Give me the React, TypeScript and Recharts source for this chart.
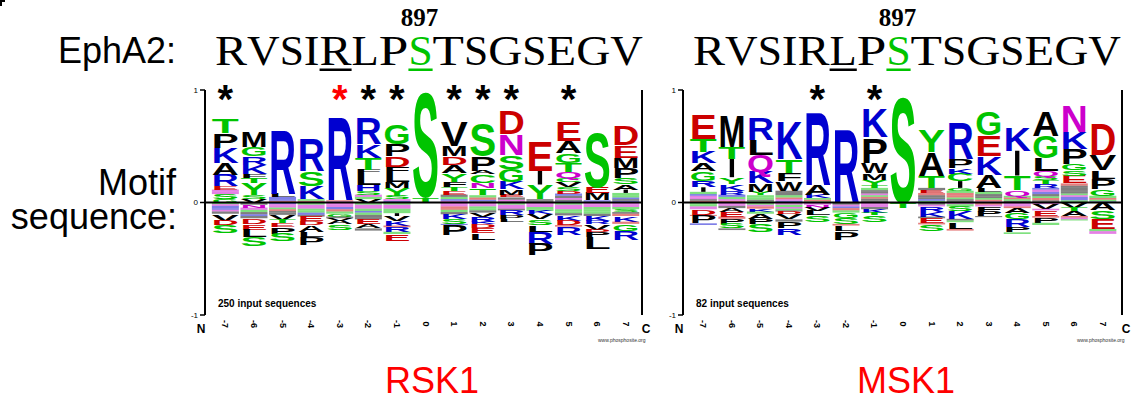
import React from 'react';
import { ComposedChart, Bar, Scatter, XAxis, YAxis, ReferenceLine } from 'recharts';

type L = [string, number];

const positions = ['-7', '-6', '-5', '-4', '-3', '-2', '-1', '0', '1', '2', '3', '4', '5', '6', '7'];

// RSK1 — enriched residues, each stack listed from top to bottom
const rskPositive: L[][] = [
  [['T', .13], ['P', .13], ['K', .135], ['A', .105], ['R', .10], ['E', .03], ['Q', .02], ['N', .02], ['S', .045], ['G', .03]],
  [['M', .14], ['G', .08], ['R', .075], ['K', .08], ['F', .035], ['T', .05], ['Y', .10], ['S', .035], ['V', .035]],
  [['R', .58], ['L', .03], ['K', .02], ['H', .015], ['E', .015]],
  [['R', .29], ['S', .13], ['K', .12], ['T', .015], ['D', .015]],
  [['R', .76], ['E', .01], ['Q', .01]],
  [['R', .24], ['K', .12], ['T', .11], ['F', .03], ['L', .10], ['H', .055], ['S', .035], ['Q', .02], ['G', .02], ['V', .03]],
  [['G', .18], ['P', .11], ['D', .095], ['F', .055], ['L', .08], ['M', .055], ['Y', .065], ['S', .03], ['Q', .015], ['K', .015]],
  [['S', .95], ['T', .049]],
  [['V', .22], ['M', .09], ['D', .075], ['A', .075], ['Y', .075], ['F', .05], ['T', .035], ['E', .03], ['L', .02], ['S', .02], ['K', .015], ['Q', .015]],
  [['S', .29], ['P', .13], ['A', .03], ['C', .075], ['N', .05], ['T', .06], ['G', .02], ['E', .02], ['K', .015], ['L', .01]],
  [['D', .21], ['N', .19], ['S', .12], ['G', .115], ['K', .065], ['M', .05], ['E', .025], ['A', .02], ['Q', .015], ['L', .01]],
  [['E', .27], ['I', .12], ['Y', .13], ['M', .01], ['V', .01], ['A', .01]],
  [['E', .18], ['A', .11], ['G', .085], ['T', .08], ['Q', .06], ['C', .035], ['V', .04], ['S', .035], ['D', .025], ['K', .02], ['L', .02], ['N', .015], ['I', .015], ['R', .01]],
  [['S', .50], ['E', .055], ['M', .065], ['K', .01], ['R', .01]],
  [['D', .18], ['E', .11], ['M', .09], ['P', .09], ['S', .055], ['A', .05], ['I', .03], ['T', .02], ['G', .02], ['K', .015], ['L', .015], ['R', .015]],
];

// RSK1 — depleted residues, each stack listed from the zero line downwards
const rskNegative: L[][] = [
  [['G', .015], ['N', .015], ['H', .01], ['K', .015], ['R', .01], ['Q', .015], ['I', .02], ['V', .06], ['D', .04], ['S', .075]],
  [['A', .02], ['N', .025], ['Q', .02], ['T', .02], ['V', .02], ['K', .015], ['P', .02], ['D', .05], ['E', .05], ['L', .07], ['S', .08]],
  [['K', .015], ['N', .015], ['Q', .015], ['G', .015], ['D', .015], ['I', .015], ['A', .02], ['V', .045], ['T', .03], ['E', .035], ['P', .06], ['S', .065]],
  [['G', .02], ['N', .02], ['Q', .015], ['S', .015], ['T', .02], ['K', .02], ['V', .015], ['E', .04], ['D', .035], ['A', .06], ['L', .045], ['P', .075]],
  [['Q', .02], ['N', .02], ['K', .02], ['E', .02], ['T', .02], ['G', .025], ['L', .015], ['V', .025], ['A', .03], ['S', .045]],
  [['S', .02], ['N', .02], ['Q', .015], ['G', .02], ['K', .015], ['T', .02], ['V', .02], ['P', .02], ['E', .045], ['A', .035], ['L', .02]],
  [['T', .02], ['N', .02], ['Q', .015], ['G', .02], ['S', .02], ['I', .025], ['V', .045], ['K', .04], ['D', .015], ['R', .04], ['Y', .02], ['E', .06]],
  [],
  [['Q', .015], ['N', .02], ['D', .015], ['E', .015], ['G', .02], ['I', .02], ['K', .045], ['S', .04], ['R', .01], ['P', .09]],
  [['N', .02], ['Q', .015], ['T', .02], ['G', .015], ['I', .02], ['V', .035], ['R', .045], ['K', .025], ['D', .035], ['E', .045], ['L', .055]],
  [['G', .02], ['N', .02], ['Q', .015], ['I', .015], ['R', .045], ['P', .03], ['L', .025]],
  [['Q', .02], ['N', .02], ['T', .02], ['G', .015], ['K', .03], ['V', .045], ['S', .05], ['L', .06], ['R', .105], ['P', .105]],
  [['S', .02], ['N', .02], ['Q', .02], ['T', .02], ['G', .015], ['I', .02], ['K', .045], ['D', .04], ['E', .015], ['R', .075]],
  [['Q', .02], ['N', .02], ['G', .02], ['T', .02], ['S', .02], ['I', .02], ['K', .045], ['R', .03], ['V', .045], ['D', .025], ['P', .045], ['L', .10]],
  [['Q', .02], ['N', .02], ['T', .02], ['S', .025], ['L', .015], ['E', .02], ['K', .05], ['D', .02], ['G', .06], ['R', .08]],
];

// MSK1 — enriched residues, top to bottom
const mskPositive: L[][] = [
  [['E', .22], ['T', .115], ['K', .10], ['A', .07], ['G', .085], ['R', .06], ['I', .04], ['S', .02], ['H', .015], ['Q', .015], ['N', .015], ['V', .015], ['D', .015]],
  [['M', .285], ['T', .105], ['I', .165], ['Y', .06], ['K', .06], ['R', .035], ['H', .02], ['S', .02], ['Q', .015], ['E', .015]],
  [['R', .195], ['L', .135], ['Q', .15], ['K', .105], ['M', .075], ['Y', .03], ['S', .02], ['T', .02], ['A', .015], ['G', .01]],
  [['K', .345], ['T', .12], ['F', .075], ['W', .085], ['A', .02], ['I', .02], ['S', .02], ['E', .015], ['Q', .015], ['R', .015]],
  [['R', .66], ['A', .09], ['K', .03], ['S', .015], ['E', .015], ['T', .01]],
  [['R', .665], ['K', .005]],
  [['K', .255], ['P', .225], ['W', .095], ['M', .06], ['Y', .045], ['T', .025], ['S', .02], ['I', .015], ['L', .015], ['N', .015], ['G', .015], ['E', .015], ['F', .015], ['A', .02]],
  [['S', .955]],
  [['Y', .195], ['A', .21], ['T', .105], ['F', .02], ['E', .025], ['D', .02], ['V', .02], ['L', .015], ['R', .015], ['G', .015]],
  [['R', .33], ['P', .085], ['K', .05], ['C', .065], ['I', .06], ['G', .025], ['S', .02], ['E', .02], ['D', .02], ['T', .015], ['A', .015], ['L', .015]],
  [['G', .21], ['E', .19], ['K', .165], ['A', .12], ['L', .03], ['S', .02], ['F', .02], ['P', .015], ['T', .015], ['D', .015], ['N', .01]],
  [['K', .21], ['I', .22], ['T', .13], ['Q', .05], ['S', .015], ['E', .015], ['G', .015], ['V', .015]],
  [['A', .225], ['G', .195], ['L', .12], ['Q', .045], ['S', .035], ['T', .035], ['R', .035], ['H', .015], ['N', .02], ['K', .02], ['M', .02], ['C', .015], ['E', .02], ['V', .02]],
  [['N', .24], ['K', .15], ['P', .135], ['G', .06], ['S', .045], ['E', .07], ['D', .02], ['L', .02], ['I', .02], ['M', .015], ['A', .015], ['T', .015], ['Q', .015], ['R', .01], ['H', .02], ['Y', .02]],
  [['D', .28], ['V', .135], ['L', .075], ['P', .09], ['G', .06], ['S', .02], ['E', .015], ['T', .015], ['K', .01]],
];

// MSK1 — depleted residues, zero line downwards
const mskNegative: L[][] = [
  [['G', .02], ['S', .015], ['Q', .015], ['N', .01], ['D', .05], ['E', .01], ['P', .065], ['R', .015]],
  [['Q', .015], ['N', .015], ['V', .02], ['A', .03], ['E', .045], ['D', .02], ['P', .045], ['S', .04], ['L', .015]],
  [['G', .02], ['Q', .015], ['E', .02], ['K', .025], ['T', .02], ['A', .05], ['P', .045], ['S', .065]],
  [['N', .02], ['G', .02], ['Q', .015], ['S', .015], ['I', .01], ['D', .025], ['V', .045], ['L', .02], ['P', .06], ['R', .06]],
  [['Q', .02], ['N', .025], ['V', .03], ['L', .04], ['S', .055]],
  [['A', .02], ['N', .015], ['K', .015], ['E', .02], ['T', .02], ['G', .045], ['S', .055], ['D', .015], ['L', .05], ['P', .075]],
  [['Q', .02], ['N', .02], ['V', .02], ['K', .03], ['T', .025], ['S', .055]],
  [['T', .05]],
  [['V', .02], ['N', .015], ['R', .045], ['K', .045], ['L', .015], ['E', .04], ['D', .015], ['S', .055]],
  [['Q', .015], ['G', .02], ['S', .04], ['K', .07], ['I', .015], ['T', .015], ['L', .06], ['E', .015]],
  [['E', .02], ['Q', .015], ['F', .045], ['P', .04], ['L', .01]],
  [['Q', .02], ['N', .015], ['E', .015], ['A', .045], ['G', .055], ['R', .065], ['P', .05], ['S', .015]],
  [['Q', .015], ['V', .04], ['N', .015], ['E', .05], ['D', .015], ['P', .045], ['G', .02]],
  [['V', .045], ['T', .03], ['A', .045], ['E', .015], ['N', .015], ['G', .01]],
  [['A', .07], ['S', .075], ['E', .09], ['G', .02], ['Q', .02], ['N', .005]],
];

const rskStars = ['-7', '-3', '-2', '-1', '1', '2', '3', '5'];
const rskRedStars = ['-3'];
const mskStars = ['-3', '-1'];
const mskRedStars: string[] = [];

const sequence = 'RVSIRLPSTSGSEGV';
const siteNumber = '897';

const GREEN = '#00c400';
const BLUE = '#0000d0';
const RED = '#cc0000';
const PURPLE = '#cc00cc';
const colorOf = (l: string) => {
  if ('GSTYC'.includes(l)) return GREEN;
  if ('KRH'.includes(l)) return BLUE;
  if ('DE'.includes(l)) return RED;
  if ('NQ'.includes(l)) return PURPLE;
  return '#000';
};

const SANS = "'Liberation Sans', Arial, Helvetica, sans-serif";
const SERIF = "'Liberation Serif', 'Times New Roman', serif";

function buildRows(pos: L[][], neg: L[][], stars: string[], red: string[]) {
  const np = Math.max(...pos.map((s) => s.length));
  const nn = Math.max(...neg.map((s) => s.length));
  const rows = positions.map((p, i) => {
    const row: any = { pos: p, star: stars.includes(p) ? 0.99 : null, starColor: red.includes(p) ? '#ff0000' : '#000' };
    const up = [...pos[i]].reverse();
    for (let k = 0; k < np; k++) {
      row['p' + k] = up[k] ? up[k][1] : 0;
      row['pl' + k] = up[k] ? up[k][0] : '';
    }
    for (let k = 0; k < nn; k++) {
      row['n' + k] = neg[i][k] ? -neg[i][k][1] : 0;
      row['nl' + k] = neg[i][k] ? neg[i][k][0] : '';
    }
    return row;
  });
  return { rows, np, nn };
}

function letterShape(lk: string) {
  return (props: any) => {
    const letter = props.payload ? props.payload[lk] : '';
    let { x, y, width, height } = props;
    if (!letter || !height || !isFinite(height)) return <g />;
    if (height < 0) {
      y += height;
      height = -height;
    }
    const c = colorOf(letter);
    if (height < 2.6) return <rect x={x} y={y} width={width} height={height} fill={c} opacity={0.5} />;
    if (letter === 'I') return <rect x={x + width * 0.42} y={y} width={width * 0.16} height={height} fill={c} />;
    const fs = height / 0.716;
    return (
      <text x={x} y={y + height} fontSize={fs} fontFamily={SANS} fontWeight={700} fill={c} textLength={width} lengthAdjust="spacingAndGlyphs">
        {letter}
      </text>
    );
  };
}

const StarShape = (props: any) => {
  const { cx, cy, payload } = props;
  if (!payload || payload.star == null || cx == null || !isFinite(cy)) return <g />;
  return (
    <text x={cx} y={cy + 22} textAnchor="middle" fontSize={40} fontWeight={700} fontFamily={SANS} fill={payload.starColor}>
      *
    </text>
  );
};

const PosTick = (props: any) => {
  const { x, y, payload } = props;
  return (
    <text transform={`translate(${x},${y + 9}) rotate(90)`} textAnchor="middle" dominantBaseline="central" fontSize={9} fontWeight={700} fontFamily={SANS} fill="#000">
      {payload.value}
    </text>
  );
};

function Logo({ pos, neg, stars, red, left, width, padL, padR }: any) {
  const { rows, np, nn } = buildRows(pos, neg, stars, red);
  const pk = Array.from({ length: np }, (_, k) => k);
  const nk = Array.from({ length: nn }, (_, k) => k);
  const axisProps = {
    domain: [-1, 1] as [number, number],
    ticks: [-1, 0, 1],
    width: 30,
    axisLine: { stroke: '#000', strokeWidth: 2 },
    tickLine: { stroke: '#000', strokeWidth: 1.5 },
    tickSize: 5,
    tick: { fill: '#000', fontSize: 8, fontFamily: SANS },
    interval: 0 as const,
  };
  return (
    <div style={{ position: 'absolute', left, top: 80 }}>
      <ComposedChart width={width} height={265} data={rows} stackOffset="sign" barCategoryGap="3%" margin={{ top: 10, right: 0, bottom: 5, left: 0 }}>
        <XAxis dataKey="pos" type="category" padding={{ left: padL, right: padR }} axisLine={false} tickLine={false} tickSize={0} tickMargin={0} tick={<PosTick />} interval={0} height={25} />
        <YAxis yAxisId="l" {...axisProps} />
        <YAxis yAxisId="r" orientation="right" {...axisProps} />
        {pk.map((k) => (
          <Bar key={'p' + k} yAxisId="l" dataKey={'p' + k} stackId="s" shape={letterShape('pl' + k)} isAnimationActive={false} />
        ))}
        {nk.map((k) => (
          <Bar key={'n' + k} yAxisId="l" dataKey={'n' + k} stackId="s" shape={letterShape('nl' + k)} isAnimationActive={false} />
        ))}
        <ReferenceLine yAxisId="l" y={0} stroke="#000" strokeWidth={2} />
        <Scatter yAxisId="l" dataKey="star" shape={StarShape} isAnimationActive={false} />
      </ComposedChart>
    </div>
  );
}

// approximate advance widths (em) of the Computer Modern capitals used in the header
const CM: Record<string, number> = { R: .736, V: .75, S: .556, I: .361, L: .625, P: .681, T: .722, G: .785, E: .681 };

function SeqHeader({ x0, underlineIdx }: { x0: number; underlineIdx: number }) {
  const letters = sequence.split('');
  const total = letters.reduce((s, l) => s + CM[l], 0);
  const k = 428 / total;
  const starts: number[] = [];
  let acc = x0;
  letters.forEach((l) => {
    starts.push(acc);
    acc += CM[l] * k;
  });
  const sIdx = 7;
  const sCenter = starts[sIdx] + (CM[letters[sIdx]] * k) / 2;
  return (
    <g>
      <text x={sCenter - 1} y={26} textAnchor="middle" fontFamily={SERIF} fontWeight={700} fontSize={25} fill="#000">
        {siteNumber}
      </text>
      {letters.map((l, i) => (
        <text key={i} x={starts[i]} y={65} fontFamily={SERIF} fontSize={42} fill={i === sIdx ? GREEN : '#000'} textLength={CM[l] * k} lengthAdjust="spacingAndGlyphs">
          {l}
        </text>
      ))}
      <rect x={starts[underlineIdx]} y={68.5} width={CM[letters[underlineIdx]] * k} height={2.5} fill="#000" />
      <rect x={starts[sIdx]} y={68.5} width={CM[letters[sIdx]] * k} height={2.5} fill={GREEN} />
    </g>
  );
}

export default function App() {
  return (
    <div style={{ position: 'absolute', left: 0, top: 0, width: 1137, height: 401, background: '#fff', overflow: 'hidden' }}>
      <Logo pos={rskPositive} neg={rskNegative} stars={rskStars} red={rskRedStars} left={175} width={497} padL={6} padR={2} />
      <Logo pos={mskPositive} neg={mskNegative} stars={mskStars} red={mskRedStars} left={653} width={499} padL={6} padR={5} />
      <svg width={1137} height={401} style={{ position: 'absolute', left: 0, top: 0, pointerEvents: 'none' }}>
        <rect x={0} y={0} width={2} height={6} fill="#000" />
        <rect x={0} y={0} width={5} height={2} fill="#000" />
        <text x={176} y={63} textAnchor="end" fontFamily={SANS} fontSize={36} fill="#000">EphA2:</text>
        <text x={176} y={195} textAnchor="end" fontFamily={SANS} fontSize={36} fill="#000">Motif</text>
        <text x={177} y={229} textAnchor="end" fontFamily={SANS} fontSize={36} fill="#000">sequence:</text>
        <SeqHeader x0={215} underlineIdx={4} />
        <SeqHeader x0={693} underlineIdx={5} />
        <text x={218} y={307} fontFamily={SANS} fontSize={10} fontWeight={700} fill="#000">250 input sequences</text>
        <text x={696} y={307} fontFamily={SANS} fontSize={10} fontWeight={700} fill="#000">82 input sequences</text>
        <text x={201} y={333} textAnchor="middle" fontFamily={SANS} fontSize={12} fontWeight={700} fill="#000">N</text>
        <text x={646} y={333} textAnchor="middle" fontFamily={SANS} fontSize={12} fontWeight={700} fill="#000">C</text>
        <text x={679} y={333} textAnchor="middle" fontFamily={SANS} fontSize={12} fontWeight={700} fill="#000">N</text>
        <text x={1126} y={333} textAnchor="middle" fontFamily={SANS} fontSize={12} fontWeight={700} fill="#000">C</text>
        <text x={598} y={342} fontFamily={SANS} fontSize={5} fill="#333">www.phosphosite.org</text>
        <text x={1077} y={342} fontFamily={SANS} fontSize={5} fill="#333">www.phosphosite.org</text>
        <text x={385} y={393} fontFamily={SANS} fontSize={36} fill="#ff0000">RSK1</text>
        <text x={857} y={393} fontFamily={SANS} fontSize={36} fill="#ff0000">MSK1</text>
      </svg>
    </div>
  );
}
